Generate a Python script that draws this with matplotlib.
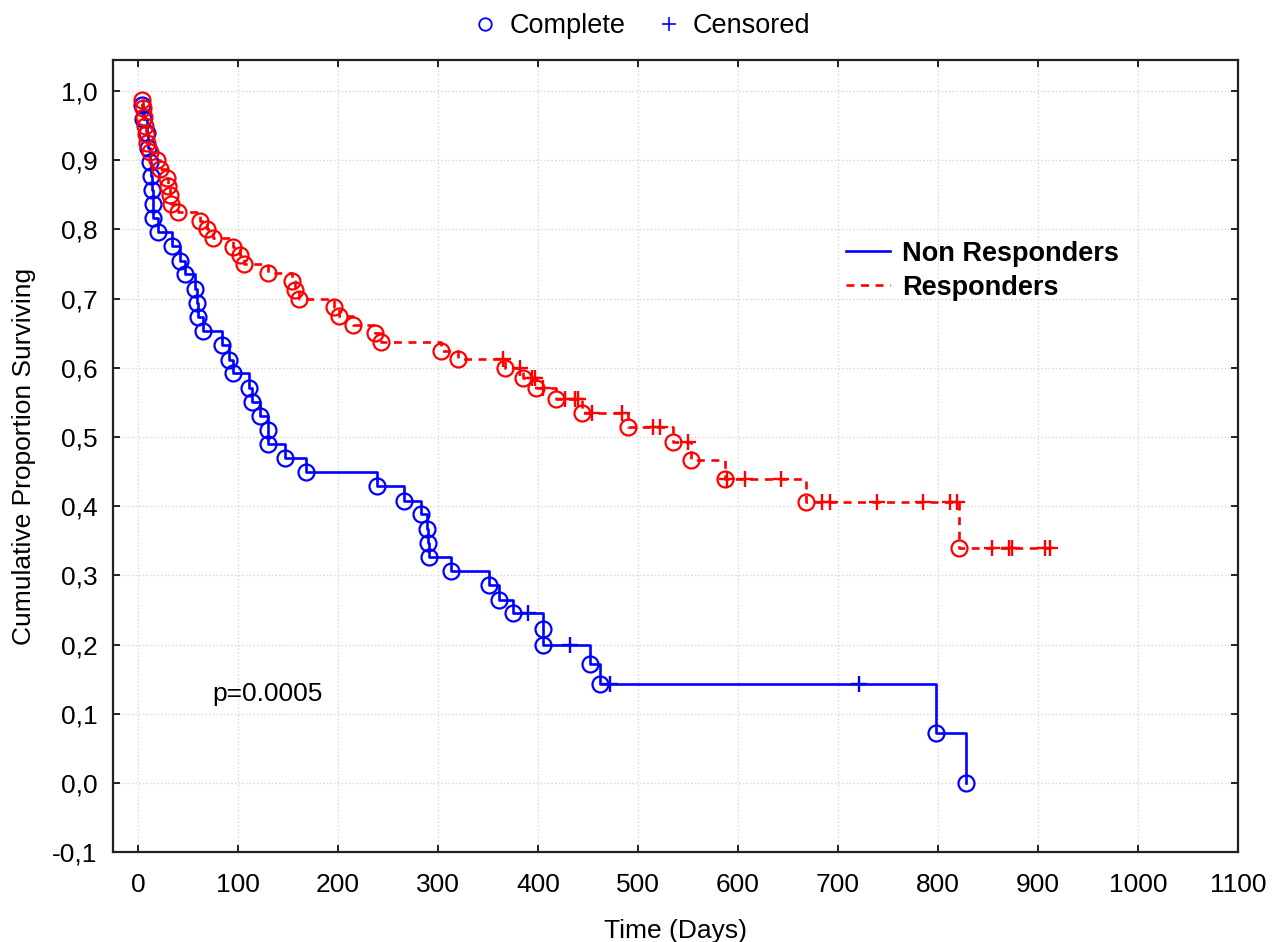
import numpy as np
import matplotlib
matplotlib.use("Agg")
import matplotlib.pyplot as plt
from matplotlib.lines import Line2D

plt.rcParams['font.family'] = ['Liberation Sans', 'DejaVu Sans']

# Kaplan-Meier estimates
# Non Responders: event times (days) and survival after each event
nonresp_t = [4, 5, 9, 10, 12, 13, 14, 15, 15, 20, 34, 42, 47, 57, 59, 60, 65,
             84, 91, 95, 111, 114, 122, 130, 130, 147, 168, 239, 266, 283, 289,
             290, 291, 313, 351, 361, 375, 405, 405, 452, 462, 798, 828]
nonresp_s = [0.98, 0.959, 0.939, 0.918, 0.898, 0.878, 0.857, 0.837, 0.816,
             0.796, 0.776, 0.755, 0.735, 0.714, 0.694, 0.673, 0.653, 0.633,
             0.612, 0.592, 0.571, 0.551, 0.531, 0.510, 0.490, 0.469, 0.449,
             0.429, 0.408, 0.388, 0.367, 0.347, 0.327, 0.306, 0.286, 0.265,
             0.245, 0.223, 0.200, 0.172, 0.143, 0.0714, 0.0]
nonresp_cens = [390, 432, 472, 721]

# Responders
resp_t = [4, 5, 6, 7, 8, 9, 12, 19, 22, 29, 30, 32, 33, 40, 62, 69, 75, 95,
          102, 106, 130, 154, 157, 161, 196, 201, 215, 237, 243, 303, 320, 367,
          385, 398, 418, 444, 490, 535, 553, 587, 668, 821]
resp_s = [0.9875, 0.975, 0.9625, 0.95, 0.9375, 0.925, 0.9125, 0.90, 0.8875,
          0.875, 0.8625, 0.85, 0.8375, 0.825, 0.8125, 0.80, 0.7875, 0.775,
          0.7625, 0.75, 0.7375, 0.725, 0.7125, 0.70, 0.6875, 0.675, 0.6625,
          0.65, 0.6375, 0.625, 0.6125, 0.60, 0.585, 0.571, 0.555, 0.535,
          0.514, 0.493, 0.467, 0.44, 0.406, 0.339]
resp_cens = [365, 382, 394, 397, 405, 427, 437, 440, 454, 484, 515, 522, 550,
             589, 607, 643, 684, 692, 739, 785, 812, 819, 854, 871, 874, 907, 912]

x_ticks = [0, 100, 200, 300, 400, 500, 600, 700, 800, 900, 1000, 1100]
y_ticks = [-0.1, 0.0, 0.1, 0.2, 0.3, 0.4, 0.5, 0.6, 0.7, 0.8, 0.9, 1.0]
y_tick_labels = ['-0,1', '0,0', '0,1', '0,2', '0,3', '0,4', '0,5', '0,6',
                 '0,7', '0,8', '0,9', '1,0']

FS = 19
BLUE = '#0000ff'
RED = '#ff0000'


def level_at(times, surv, when):
    times = np.asarray(times)
    surv = np.asarray(surv)
    idx = np.searchsorted(times, when, side='right') - 1
    return surv[idx]


fig = plt.figure(figsize=(12.82, 9.42), dpi=100)
ax = fig.add_axes([0.0881, 0.0955, 0.8775, 0.8408])

# Non Responders (solid blue)
x = list(nonresp_t)
y = list(nonresp_s)
if max(nonresp_cens) > x[-1]:
    x.append(max(nonresp_cens))
    y.append(y[-1])
ax.step(x, y, where='post', color=BLUE, lw=1.9, label='Non Responders', zorder=3)
ax.plot(nonresp_t, nonresp_s, 'o', ms=11.5, mfc='none', mec=BLUE, mew=1.6, zorder=4)
ax.plot(nonresp_cens, level_at(nonresp_t, nonresp_s, nonresp_cens), '+',
        ms=11.5, color=BLUE, mew=1.7, zorder=4)

# Responders (dashed red)
x = list(resp_t)
y = list(resp_s)
if max(resp_cens) > x[-1]:
    x.append(max(resp_cens))
    y.append(y[-1])
ax.step(x, y, where='post', color=RED, lw=1.9, dashes=(3, 2.5),
        label='Responders', zorder=3)
ax.plot(resp_t, resp_s, 'o', ms=11.5, mfc='none', mec=RED, mew=1.6, zorder=4)
ax.plot(resp_cens, level_at(resp_t, resp_s, resp_cens), '+',
        ms=11.5, color=RED, mew=1.7, zorder=4)

ax.set_xlim(-25, 1100)
ax.set_ylim(-0.1, 1.045)
ax.set_xticks(x_ticks)
ax.set_yticks(y_ticks)
ax.set_yticklabels(y_tick_labels)
ax.tick_params(direction='in', length=5, width=1.4, labelsize=FS,
               top=True, right=True, color='#222222')
ax.tick_params(axis='x', pad=15)
ax.tick_params(axis='y', pad=11)
ax.grid(True, color='#d6d6d6', linestyle=':', linewidth=1.0, zorder=0)
for sp in ax.spines.values():
    sp.set_linewidth(1.6)
    sp.set_color('#222222')

ax.set_xlabel('Time (Days)', fontsize=FS, labelpad=16)
ax.set_ylabel('Cumulative Proportion Surviving', fontsize=FS, labelpad=12)

ax.text(74, 0.128, 'p=0.0005', fontsize=FS, va='center', ha='left')

leg = ax.legend(loc='upper left', bbox_to_anchor=(0.652, 0.772), frameon=False,
                prop={'size': 19.5, 'weight': 'bold'}, handlelength=1.62,
                handletextpad=0.42, labelspacing=0.3, borderpad=0,
                borderaxespad=0)

marker_handles = [
    Line2D([], [], ls='none', marker='o', ms=9, mfc='none', mec=BLUE, mew=1.3),
    Line2D([], [], ls='none', marker='+', ms=10, color=BLUE, mew=1.2),
]
fig.legend(marker_handles, ['Complete', 'Censored'], loc='center',
           bbox_to_anchor=(0.5, 1 - 26 / 942), ncol=2, frameon=False,
           fontsize=19.5, handlelength=1.0, handletextpad=0.4, columnspacing=1.1)

fig.savefig('out.png', dpi=100)
